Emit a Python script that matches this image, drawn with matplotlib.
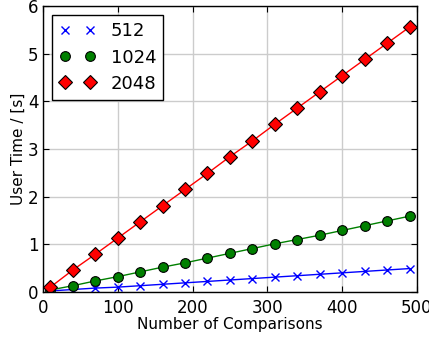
import numpy as np
import matplotlib
matplotlib.use('Agg')
import matplotlib.pyplot as plt
from matplotlib.lines import Line2D

# number of comparisons
comparisons = [10, 40, 70, 100, 130, 160, 190, 220, 250, 280, 310, 340, 370, 400, 430, 460, 490]

# user time [s] per size
time_512 = [0.02, 0.05, 0.08, 0.10, 0.13, 0.16, 0.19, 0.22, 0.25, 0.28, 0.31, 0.34, 0.37, 0.40, 0.43, 0.46, 0.49]
time_1024 = [0.04, 0.13, 0.23, 0.32, 0.42, 0.52, 0.61, 0.71, 0.81, 0.91, 1.01, 1.10, 1.19, 1.29, 1.39, 1.49, 1.59]
time_2048 = [0.10, 0.46, 0.79, 1.13, 1.47, 1.81, 2.15, 2.49, 2.84, 3.17, 3.52, 3.86, 4.20, 4.54, 4.88, 5.22, 5.56]

sizes = ['512', '1024', '2048']
colors = ['blue', 'green', 'red']
markers = ['x', 'o', 'D']

fig = plt.figure(figsize=(4.29, 3.41), dpi=100)
ax = fig.add_axes([0.1, 0.144, 0.872, 0.838])

handles = []
for t, lab, c, m in zip([time_512, time_1024, time_2048], sizes, colors, markers):
    ms = 6 if m == 'x' else 7
    mec = c if m == 'x' else 'black'
    mew = 1 if m == 'x' else 0.8
    ax.plot(comparisons, t, color=c, marker=m, markersize=ms,
            markeredgecolor=mec, markeredgewidth=mew, lw=1)
    handles.append(Line2D([], [], linestyle='none', color=c, marker=m, markersize=ms,
                          markeredgecolor=mec, markeredgewidth=mew, label=lab))

ax.set_xlim(0, 500)
ax.set_ylim(0, 6)
ax.set_xticks([0, 100, 200, 300, 400, 500])
ax.set_yticks([0, 1, 2, 3, 4, 5, 6])
ax.grid(True, color='#cccccc', linestyle='-', lw=1)
ax.set_axisbelow(True)
ax.tick_params(direction='in', top=True, right=True, labelsize=12, length=4)
ax.tick_params(axis='y', pad=3)
ax.tick_params(axis='x', pad=5)
for s in ax.spines.values():
    s.set_linewidth(1)

ax.set_xlabel('Number of Comparisons', fontsize=11, labelpad=0)
ax.set_ylabel('User Time / [s]', fontsize=11, labelpad=2)

leg = ax.legend(handles=handles, loc='upper left', numpoints=2, fontsize=13,
                fancybox=False, framealpha=1, edgecolor='black',
                handlelength=2.0, handletextpad=0.85, borderpad=0.4,
                borderaxespad=0.5, labelspacing=0.45)
leg.get_frame().set_linewidth(1)

fig.savefig('out.png', dpi=100)
